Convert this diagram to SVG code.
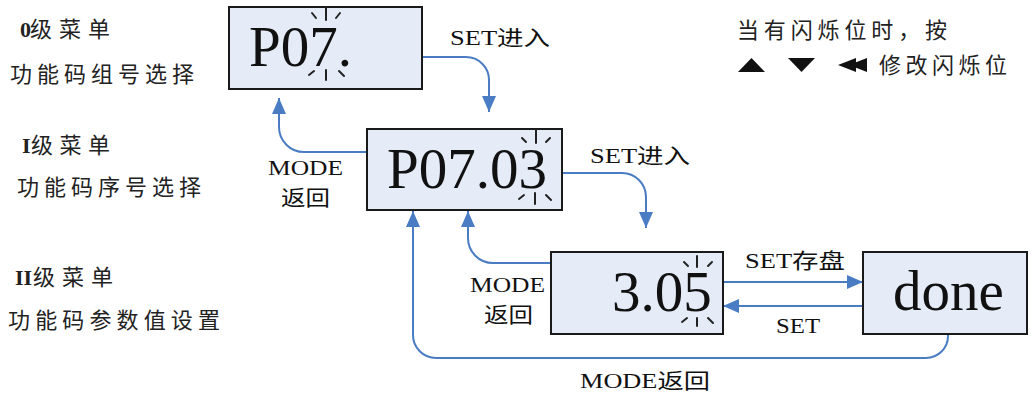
<svg xmlns="http://www.w3.org/2000/svg" width="1032" height="394" viewBox="0 0 1032 394">
<style>
.box{fill:#E5ECF7;stroke:#1a1a1a;stroke-width:2}
.big{font-family:"Liberation Serif","Times New Roman",serif;font-size:57px;fill:#111}
.lbl{font-family:"Liberation Serif","Noto Sans CJK SC",serif;font-size:21px;fill:#111}
.cn{font-family:"Liberation Serif","Noto Sans CJK SC",sans-serif;font-size:22px;fill:#222}
.b{font-weight:bold}
.conn{fill:none;stroke:#4A7CC4;stroke-width:2;marker-end:url(#ah)}
.blink{stroke:#222;stroke-width:2;stroke-linecap:round}
</style>
<defs>
<marker id="ah" markerUnits="userSpaceOnUse" markerWidth="18" markerHeight="16" refX="16" refY="7" orient="auto">
<path d="M0,0 L16,7 L0,14 z" fill="#4A7CC4"/>
</marker>
</defs>

<g id="left-labels">
<text class="cn b" x="20" y="37">0</text>
<text class="cn" x="30" y="37" textLength="80" lengthAdjust="spacing">级菜单</text>
<text class="cn" x="10" y="82" textLength="184" lengthAdjust="spacing">功能码组号选择</text>
<text class="cn b" x="22" y="153">I</text>
<text class="cn" x="31" y="153" textLength="79" lengthAdjust="spacing">级菜单</text>
<text class="cn" x="17" y="195" textLength="184" lengthAdjust="spacing">功能码序号选择</text>
<text class="cn b" x="15" y="285">II</text>
<text class="cn" x="33" y="285" textLength="80" lengthAdjust="spacing">级菜单</text>
<text class="cn" x="8" y="328" textLength="212" lengthAdjust="spacing">功能码参数值设置</text>
</g>

<g id="hint">
<text class="cn" x="737" y="38" textLength="210" lengthAdjust="spacing">当有闪烁位时，按</text>
<polygon points="738,72 765,72 751.5,58" fill="#111"/>
<polygon points="788,58 815,58 801.5,72" fill="#111"/>
<polygon points="856,58 856,72 838,65" fill="#111"/>
<polygon points="867,58 867,72 849,65" fill="#111"/>
<text class="cn" x="879" y="73" textLength="128" lengthAdjust="spacing">修改闪烁位</text>
</g>

<g id="connectors">
<path class="conn" d="M422,57 H466 A23,23 0 0 1 489,80 V112"/>
<path class="conn" d="M562,173 H622 A24,24 0 0 1 646,197 V228"/>
<path class="conn" d="M367,152 H304 A25,25 0 0 1 279,127 V98"/>
<path class="conn" d="M551,263 H493 A25,25 0 0 1 468,238 V211"/>
<path class="conn" d="M948,334 V336 A22,22 0 0 1 926,358 H436 A23,23 0 0 1 413,335 V211"/>
<path class="conn" d="M723,282 H863"/>
<path class="conn" d="M863,306 H723"/>
<text class="lbl" x="450" y="45" textLength="100" lengthAdjust="spacingAndGlyphs">SET进入</text>
<text class="lbl" x="590" y="163" textLength="100" lengthAdjust="spacingAndGlyphs">SET进入</text>
<text class="lbl" x="268" y="175" textLength="75" lengthAdjust="spacingAndGlyphs">MODE</text>
<text class="lbl" x="281" y="205" textLength="49" lengthAdjust="spacingAndGlyphs">返回</text>
<text class="lbl" x="470" y="292" textLength="75" lengthAdjust="spacingAndGlyphs">MODE</text>
<text class="lbl" x="484" y="322" textLength="49" lengthAdjust="spacingAndGlyphs">返回</text>
<text class="lbl" x="745" y="268" textLength="100" lengthAdjust="spacingAndGlyphs">SET存盘</text>
<text class="lbl" x="776" y="333" textLength="44" lengthAdjust="spacingAndGlyphs">SET</text>
<text class="lbl" x="580" y="388" textLength="130" lengthAdjust="spacingAndGlyphs">MODE返回</text>
</g>

<g id="node-p07">
<rect class="box" x="229" y="7" width="193" height="82"/>
<text class="big" x="249" y="66">P07.</text>
<g class="blink">
<line x1="326" y1="7" x2="326" y2="20"/>
<line x1="312" y1="13" x2="316" y2="18"/>
<line x1="340" y1="13" x2="336" y2="18"/>
<line x1="326" y1="70" x2="326" y2="80"/>
<line x1="309" y1="75" x2="314" y2="71"/>
<line x1="339" y1="71" x2="344" y2="76"/>
</g>
</g>

<g id="node-p0703">
<rect class="box" x="367" y="129" width="195" height="81"/>
<text class="big" x="387" y="188">P07.03</text>
<g class="blink">
<line x1="536" y1="129" x2="536" y2="143"/>
<line x1="522" y1="138" x2="526" y2="142"/>
<line x1="550" y1="138" x2="546" y2="142"/>
<line x1="535" y1="193" x2="535" y2="204"/>
<line x1="519" y1="199" x2="524" y2="195"/>
<line x1="546" y1="195" x2="551" y2="200"/>
</g>
</g>

<g id="node-305">
<rect class="box" x="551" y="252" width="172" height="82"/>
<text class="big" x="612" y="311">3.05</text>
<g class="blink">
<line x1="697" y1="256" x2="697" y2="267"/>
<line x1="684" y1="262" x2="688" y2="266"/>
<line x1="712" y1="262" x2="708" y2="266"/>
<line x1="697" y1="318" x2="697" y2="326"/>
<line x1="682" y1="322" x2="687" y2="318"/>
<line x1="708" y1="318" x2="713" y2="323"/>
</g>
</g>

<g id="node-done">
<rect class="box" x="863" y="252" width="164" height="82"/>
<text class="big" x="893" y="310">done</text>
</g>
</svg>
